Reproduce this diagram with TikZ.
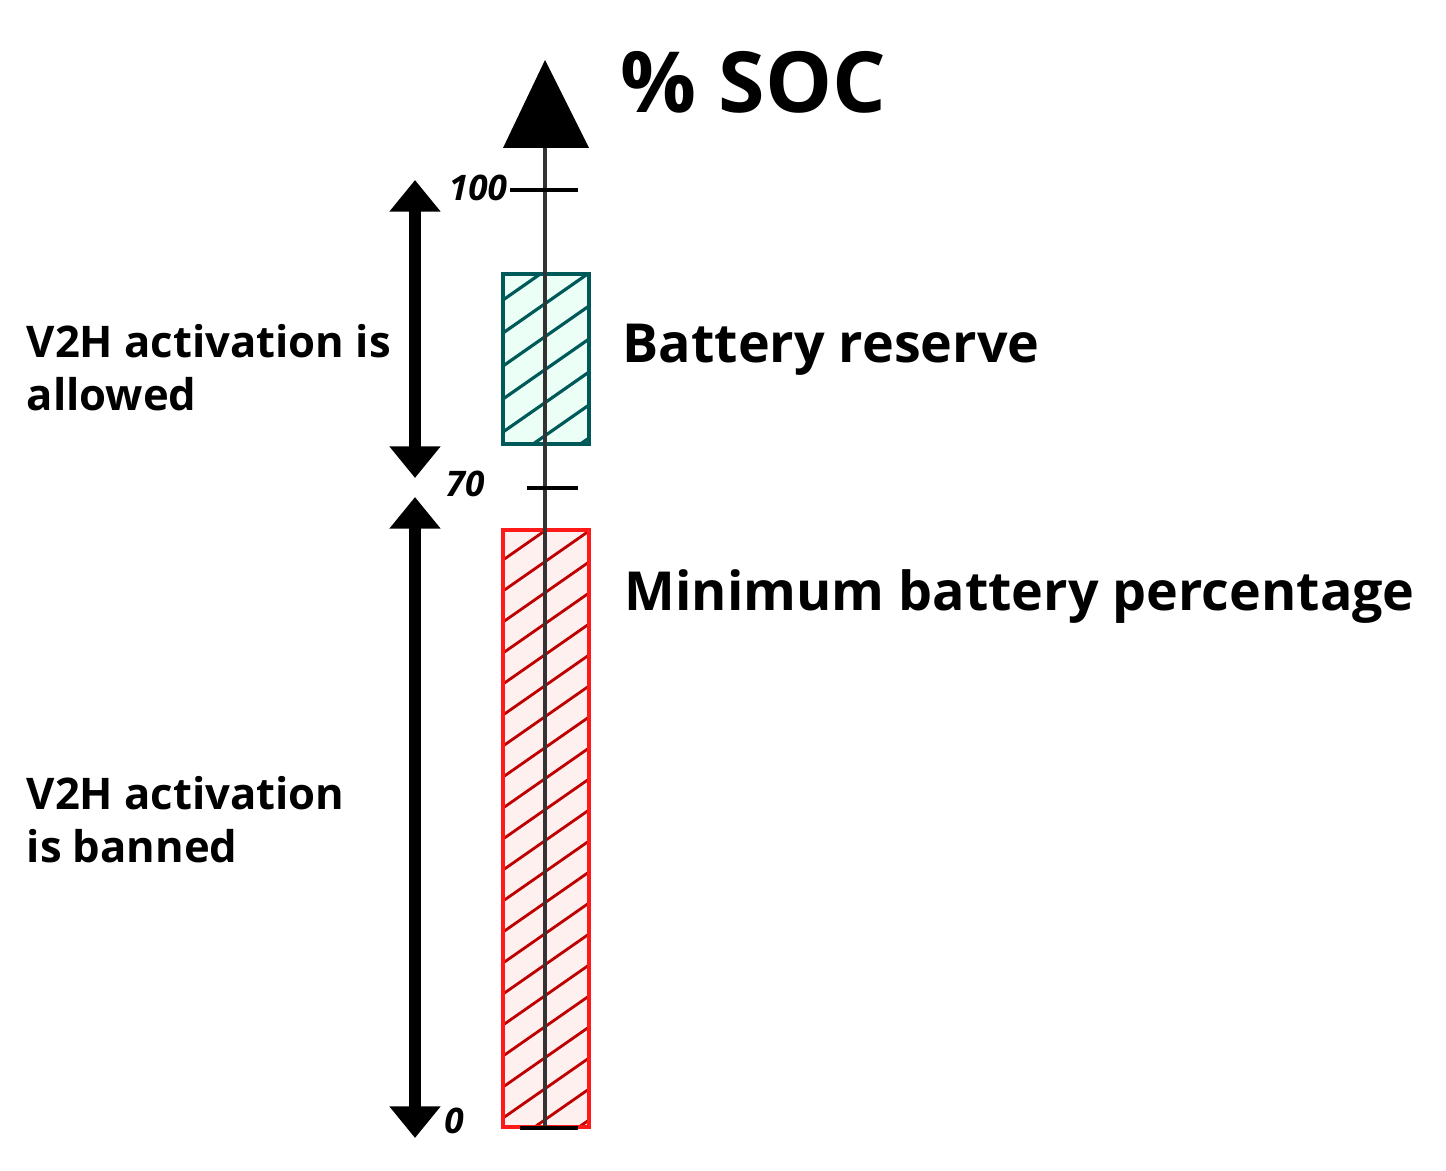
\documentclass[tikz,border=0pt]{standalone}
\usepackage{fontspec}
\setmainfont{Open Sans}
\usetikzlibrary{arrows.meta}
\begin{document}
\begin{tikzpicture}[x=0.01cm,y=-0.01cm,
  lbl/.style={font=\bfseries\fontsize{12.4}{15}\selectfont,align=left,anchor=west,inner sep=0},
  big/.style={font=\bfseries\fontsize{15.3}{19}\selectfont,anchor=west,inner sep=0},
  num/.style={font=\bfseries\itshape\fontsize{10}{12}\selectfont,inner sep=0},
  fat/.style={line width=3.2pt,{Triangle[width=14pt,length=9pt]}-{Triangle[width=14pt,length=9pt]}},
]
\useasboundingbox (0,0) rectangle (1446,1170);
% boxes
\fill[green!40!cyan!8] (503,274) rectangle (589,444);
\begin{scope}
\clip (503,274) rectangle (589,444);
\foreach \k in {-2,...,8} \draw[draw=teal!70!black,line width=0.9pt] (503,300+\k*33) -- (589,240+\k*33);
\end{scope}
\draw[teal!70!black,line width=0.9pt] (503,274) rectangle (589,444);
\fill[red!6] (503,530) rectangle (589,1127);
\begin{scope}
\clip (503,530) rectangle (589,1127);
\foreach \k in {-2,...,21} \draw[red!75!black,line width=0.8pt] (503,560+\k*31) -- (589,500+\k*31);
\end{scope}
\draw[red!90,line width=1pt] (503,530) rectangle (589,1127);
% axis
\coordinate (a0) at (545,1128);
\coordinate (atip) at (545,60);
\draw[line width=1.4pt,black!80] (a0) -- (545,148);
\fill (503,148) -- (589,148) -- (atip) -- cycle;
% ticks
\draw[line width=1.2pt] (510,190) -- (578,190);
\draw[line width=1.2pt] (527,488) -- (578,488);
\draw[line width=1.4pt] (520,1128) -- (578,1128);
\node[num] (n100) at (478,188) {100};
\node[num] (n70) at (465,484) {70};
\node[num] (n0) at (454,1121) {0};
% left arrows
\coordinate (u1) at (415,180); \coordinate (d1) at (415,478);
\coordinate (u2) at (415,497); \coordinate (d2) at (415,1138);
\draw[fat] (u1) -- (d1);
\draw[fat] (u2) -- (d2);
% texts
\node[font=\bfseries\fontsize{24}{27}\selectfont,anchor=west,inner sep=0] (soc) at (620,82) {\% SOC};
\node[big] (br) at (622,350) {Battery reserve};
\node[big] (mb) at (624,597) {Minimum battery percentage};
\node[lbl] (t1) at (26,368) {V2H activation is\\allowed};
\node[lbl] (t2) at (26,820) {V2H activation\\is banned};
\end{tikzpicture}
\end{document}
